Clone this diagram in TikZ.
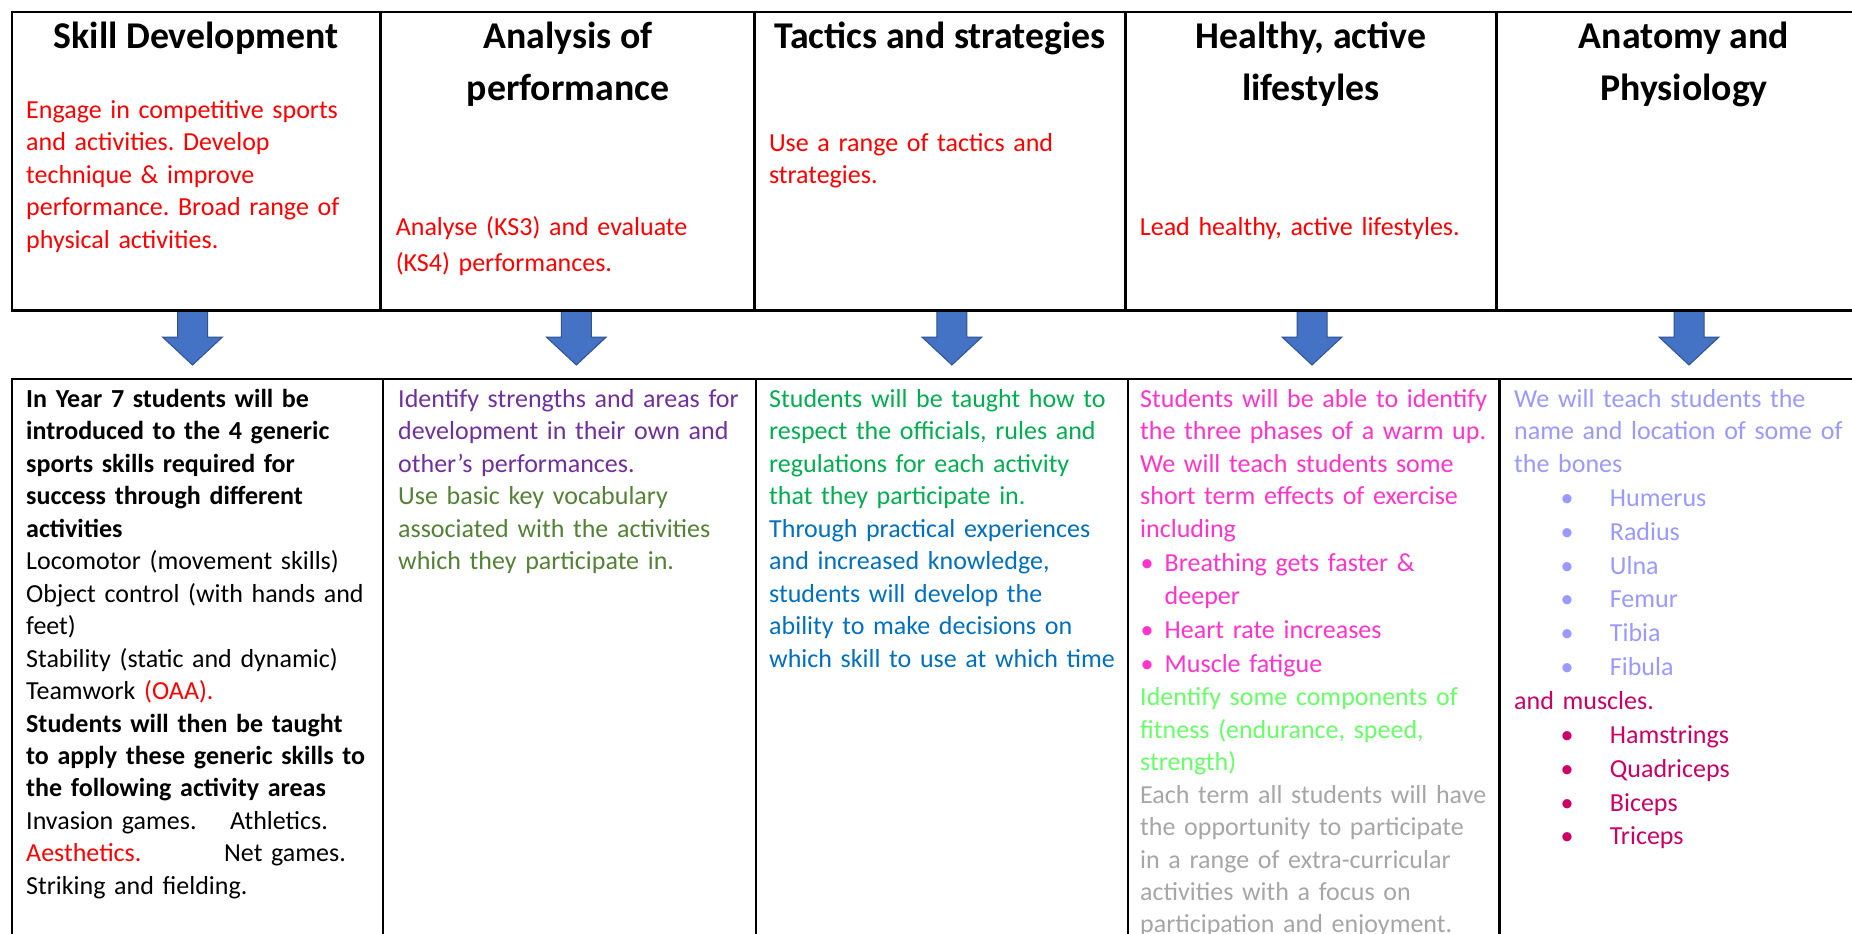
\documentclass[tikz,border=0pt]{standalone}
\usepackage{fontspec}
\setmainfont{Carlito}
\definecolor{cRed}{HTML}{FF0000}
\definecolor{cPurple}{HTML}{7030A0}
\definecolor{cOlive}{HTML}{548235}
\definecolor{cGreen}{HTML}{00B050}
\definecolor{cBlue}{HTML}{0070C0}
\definecolor{cPink}{HTML}{FF33CC}
\definecolor{cLime}{HTML}{66FF66}
\definecolor{cGray}{HTML}{A6A6A6}
\definecolor{cLav}{HTML}{9999FF}
\definecolor{cCrim}{HTML}{CC0066}
\definecolor{arrowfill}{HTML}{4472C4}
\definecolor{arrowline}{HTML}{2F528F}
\tikzset{
  tblline/.style={line width=2.5pt, black},
  headtxt/.style={anchor=north, inner sep=0pt, align=center, font=\fontsize{37.8}{52}\selectfont\bfseries\frenchspacing},
  bodytxt/.style={anchor=north west, inner sep=0pt, align=left, text width=372pt, font=\fontsize{26}{32.45}\selectfont\frenchspacing},
  blockarrow/.style={fill=arrowfill, draw=arrowline, line width=1pt, line join=miter}
}
\newcommand{\bulA}[1]{\makebox[24.5pt][l]{\hspace*{0.5pt}•}#1}
\newcommand{\bulB}[1]{\makebox[95.7pt][l]{\hspace*{46.5pt}•}#1}
\begin{document}
\begin{tikzpicture}[x=1pt,y=-1pt]
\useasboundingbox (0,0) rectangle (1852,934);
\clip (0,0) rectangle (1852,934);
\fill[white] (0,0) rectangle (1852,934);

% block arrows
\foreach \cx/\nm in {192.5/a1,576.3/a2,951.9/a3,1312/a4,1689/a5}{
  \path[blockarrow] (\cx-15,311) -- (\cx+15,311) -- (\cx+15,337) -- (\cx+30,337)
     -- (\cx,365) -- (\cx-30,337) -- (\cx-15,337) -- cycle;
}

% top table
\draw[tblline] (1880,12) -- (12,12) -- (12,310.7) -- (1880,310.7);
\foreach \xx in {380.5,754.7,1125.5,1496.5}{
  \draw[tblline] (\xx,12) -- (\xx,310.7);
}
% bottom table
\draw[tblline] (12,960) -- (12,379) -- (1880,379);
\foreach \xx in {383,756,1128,1499.5}{
  \draw[tblline] (\xx,379) -- (\xx,960);
}

% headings
\node[headtxt] (h1) at (196,11.8) {\strut Skill Development};
\node[headtxt] (h2) at (568,11.8) {\strut Analysis of\\performance};
\node[headtxt] (h3) at (940,11.8) {\strut Tactics and strategies};
\node[headtxt] (h4) at (1311,11.8) {\strut Healthy, active\\lifestyles};
\node[headtxt] (h5) at (1684,11.8) {\strut Anatomy and\\Physiology};

% top descriptions
\node[bodytxt, text=cRed] (t1) at (26,95.4) {\strut Engage in competitive sports\\and activities. Develop\\technique \& improve\\performance. Broad range of\\physical activities.};
\node[bodytxt, text=cRed, font=\fontsize{26}{36.6}\selectfont\frenchspacing] (t2) at (395.6,209.4) {\strut Analyse (KS3) and evaluate\\(KS4) performances.};
\node[bodytxt, text=cRed] (t3) at (768.8,128.3) {\strut Use a range of tactics and\\strategies.};
\node[bodytxt, text=cRed] (t4) at (1139.7,212.2) {\strut Lead healthy, active lifestyles.};

% bottom column 1
\node[bodytxt] (b1) at (26,384.6) {\strut\textbf{In Year 7 students will be}\\
\textbf{introduced to the 4 generic}\\
\textbf{sports skills required for}\\
\textbf{success through different}\\
\textbf{activities}\\
Locomotor (movement skills)\\
Object control (with hands and\\
feet)\\
Stability (static and dynamic)\\
Teamwork {\color{cRed}(OAA).}\\
\textbf{Students will then be taught}\\
\textbf{to apply these generic skills to}\\
\textbf{the following activity areas}\\
\makebox[204pt][l]{Invasion games.}Athletics.\\
\makebox[198pt][l]{\color{cRed}Aesthetics.}Net games.\\
Striking and fielding.};

% bottom column 2
\node[bodytxt] (b2) at (398,384.6) {\strut{\color{cPurple}Identify strengths and areas for}\\
{\color{cPurple}development in their own and}\\
{\color{cPurple}other’s performances.}\\
{\color{cOlive}Use basic key vocabulary}\\
{\color{cOlive}associated with the activities}\\
{\color{cOlive}which they participate in.}};

% bottom column 3
\node[bodytxt] (b3) at (769,384.6) {\strut{\color{cGreen}Students will be taught how to}\\
{\color{cGreen}respect the officials, rules and}\\
{\color{cGreen}regulations for each activity}\\
{\color{cGreen}that they participate in.}\\
{\color{cBlue}Through practical experiences}\\
{\color{cBlue}and increased knowledge,}\\
{\color{cBlue}students will develop the}\\
{\color{cBlue}ability to make decisions on}\\
{\color{cBlue}which skill to use at which time}};

% bottom column 4
\node[bodytxt] (b4) at (1140,384.6) {\strut{\color{cPink}Students will be able to identify}\\
{\color{cPink}the three phases of a warm up.}\\
{\color{cPink}We will teach students some}\\
{\color{cPink}short term effects of exercise}\\
{\color{cPink}including}\\[1.25pt]
{\color{cPink}\bulA{Breathing gets faster \&}}\\[1.25pt]
{\color{cPink}\hspace*{24.5pt}deeper}\\[1.25pt]
{\color{cPink}\bulA{Heart rate increases}}\\[1.25pt]
{\color{cPink}\bulA{Muscle fatigue}}\\[1.25pt]
{\color{cLime}Identify some components of}\\
{\color{cLime}fitness (endurance, speed,}\\
{\color{cLime}strength)}\\
{\color{cGray}Each term all students will have}\\
{\color{cGray}the opportunity to participate}\\
{\color{cGray}in a range of extra-curricular}\\
{\color{cGray}activities with a focus on}\\
{\color{cGray}participation and enjoyment.}};

% bottom column 5
\node[bodytxt] (b5) at (1514,384.6) {\strut{\color{cLav}We will teach students the}\\
{\color{cLav}name and location of some of}\\
{\color{cLav}the bones}\\[1.5pt]
{\color{cLav}\bulB{Humerus}}\\[1.4pt]
{\color{cLav}\bulB{Radius}}\\[1.4pt]
{\color{cLav}\bulB{Ulna}}\\[1.4pt]
{\color{cLav}\bulB{Femur}}\\[1.4pt]
{\color{cLav}\bulB{Tibia}}\\[1.4pt]
{\color{cLav}\bulB{Fibula}}\\[1.4pt]
{\color{cCrim}and muscles.}\\[1.4pt]
{\color{cCrim}\bulB{Hamstrings}}\\[1.4pt]
{\color{cCrim}\bulB{Quadriceps}}\\[1.4pt]
{\color{cCrim}\bulB{Biceps}}\\[1.4pt]
{\color{cCrim}\bulB{Triceps}}};
\end{tikzpicture}
\end{document}
